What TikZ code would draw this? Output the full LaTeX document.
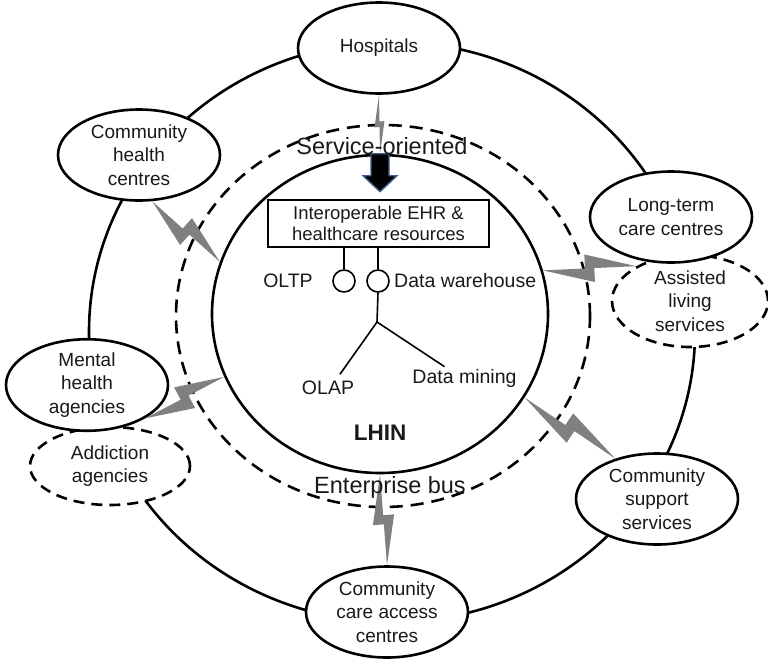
\documentclass[tikz,border=0pt]{standalone}
\usepackage{fontspec}
\setmainfont{Liberation Sans}
\usetikzlibrary{shapes.geometric,calc}
\definecolor{arrowedge}{HTML}{3F5E8C}
\definecolor{boltgray}{HTML}{808080}

\newcommand{\bolt}[3][14]{%
  \fill[boltfill] (#2) -- ($(#2)!0.55!(#3)!#1pt!-90:(#3)$) -- ($(#2)!0.55!(#3)$)
    -- (#3) -- ($(#2)!0.45!(#3)!#1pt!90:(#3)$) -- ($(#2)!0.45!(#3)$) -- cycle;}

\begin{document}
\begin{tikzpicture}[x=1pt,y=-1pt]
  \tikzstyle{every node}=[text=black!90]
  \tikzstyle{ring}=[ellipse,draw,line width=2.6pt,inner sep=0pt]
  \tikzstyle{site}=[ellipse,draw,line width=2.6pt,fill=white,inner sep=0pt,align=center,
    minimum width=162pt,minimum height=91pt,font=\fontsize{19}{23.5}\selectfont]
  \tikzstyle{subsite}=[site,dash pattern=on 11pt off 7pt]
  \tikzstyle{lbl}=[font=\fontsize{19.5}{21}\selectfont,inner sep=2pt]
  \tikzstyle{bus}=[font=\fontsize{23.5}{26}\selectfont,inner sep=0pt]
  \tikzstyle{wire}=[line width=1.6pt]
  \tikzstyle{boltfill}=[fill=boltgray]
  \useasboundingbox (0,0) rectangle (768,664);

  \node[ring,minimum width=606pt,minimum height=580pt] (outer) at (392,332) {};
  \node[ring,dash pattern=on 13pt off 8pt,minimum width=414pt,minimum height=382pt] (esb) at (383,316) {};
  \node[ring,minimum width=336pt,minimum height=318pt] (lhin) at (380,314) {};

  \node[subsite,minimum width=160pt,minimum height=78pt] (addict) at (110,466) {Addiction\\agencies};
  \node[site] (mental) at (87,385) {Mental\\health\\agencies};
  \node[subsite,minimum width=156pt,minimum height=92pt] (assist) at (690,301) {Assisted\\living\\services};
  \node[site] (ltc) at (671,217) {Long-term\\care centres};
  \node[site] (hosp) at (379,48) {Hospitals};
  \node[site] (chc) at (139,155) {Community\\health\\centres};
  \node[site] (css) at (657,499) {Community\\support\\services};
  \node[site] (ccac) at (387,612) {Community\\care access\\centres};

  \bolt[5]{hosp.south}{lhin.north}
  \bolt{chc.-74}{lhin.162}
  \bolt{mental.-30}{lhin.-158}
  \bolt{lhin.15}{assist.147}
  \bolt{lhin.-30}{css.136}
  \bolt[11]{lhin.south}{ccac.north}

  \coordinate (arr) at (lhin.north);
  \draw[line width=1.4pt,draw=arrowedge,fill=black] (arr) ++(-9,0) -- ++(18,0) -- ++(0,22)
    -- ++(8,0) -- ++(-17,16) -- ++(-17,-16) -- ++(8,0) -- cycle;

  \node[draw,wire,minimum width=221pt,minimum height=47pt,inner sep=0pt,align=center,
    font=\fontsize{18.5}{21}\selectfont] (ehr) at (378.5,223.5) {Interoperable EHR \&\\healthcare resources};
  \node[circle,draw,wire,minimum size=22pt,inner sep=0pt] (oltp) at (344,281) {};
  \node[circle,draw,wire,minimum size=22pt,inner sep=0pt] (dw) at (378,281) {};
  \draw[wire] (oltp.north) -- (oltp.north |- ehr.south);
  \draw[wire] (dw.north) -- (dw.north |- ehr.south);
  \coordinate (fork) at (377,322);
  \node[lbl,anchor=base] (oltpl) at (288,287) {OLTP};
  \node[lbl,anchor=base west] (dwl) at (392,287) {Data warehouse};
  \node[lbl,anchor=base] (olapl) at (328,394) {OLAP};
  \node[lbl,anchor=base] (dminel) at (464.5,383) {Data mining};
  \draw[wire] (dw.south) -- (fork);
  \draw[wire] (fork) -- ([xshift=12pt,yshift=4pt]olapl.north);
  \draw[wire] (fork) -- ([xshift=-20pt]dminel.north);
  \node[font=\bfseries\fontsize{22.5}{24}\selectfont,anchor=base] (lhinl) at (380,440) {LHIN};

  \node[bus,anchor=base] (soa) at (382,154) {Service-oriented};
  \node[bus,anchor=base] (ebus) at (390,493) {Enterprise bus};
\end{tikzpicture}
\end{document}
